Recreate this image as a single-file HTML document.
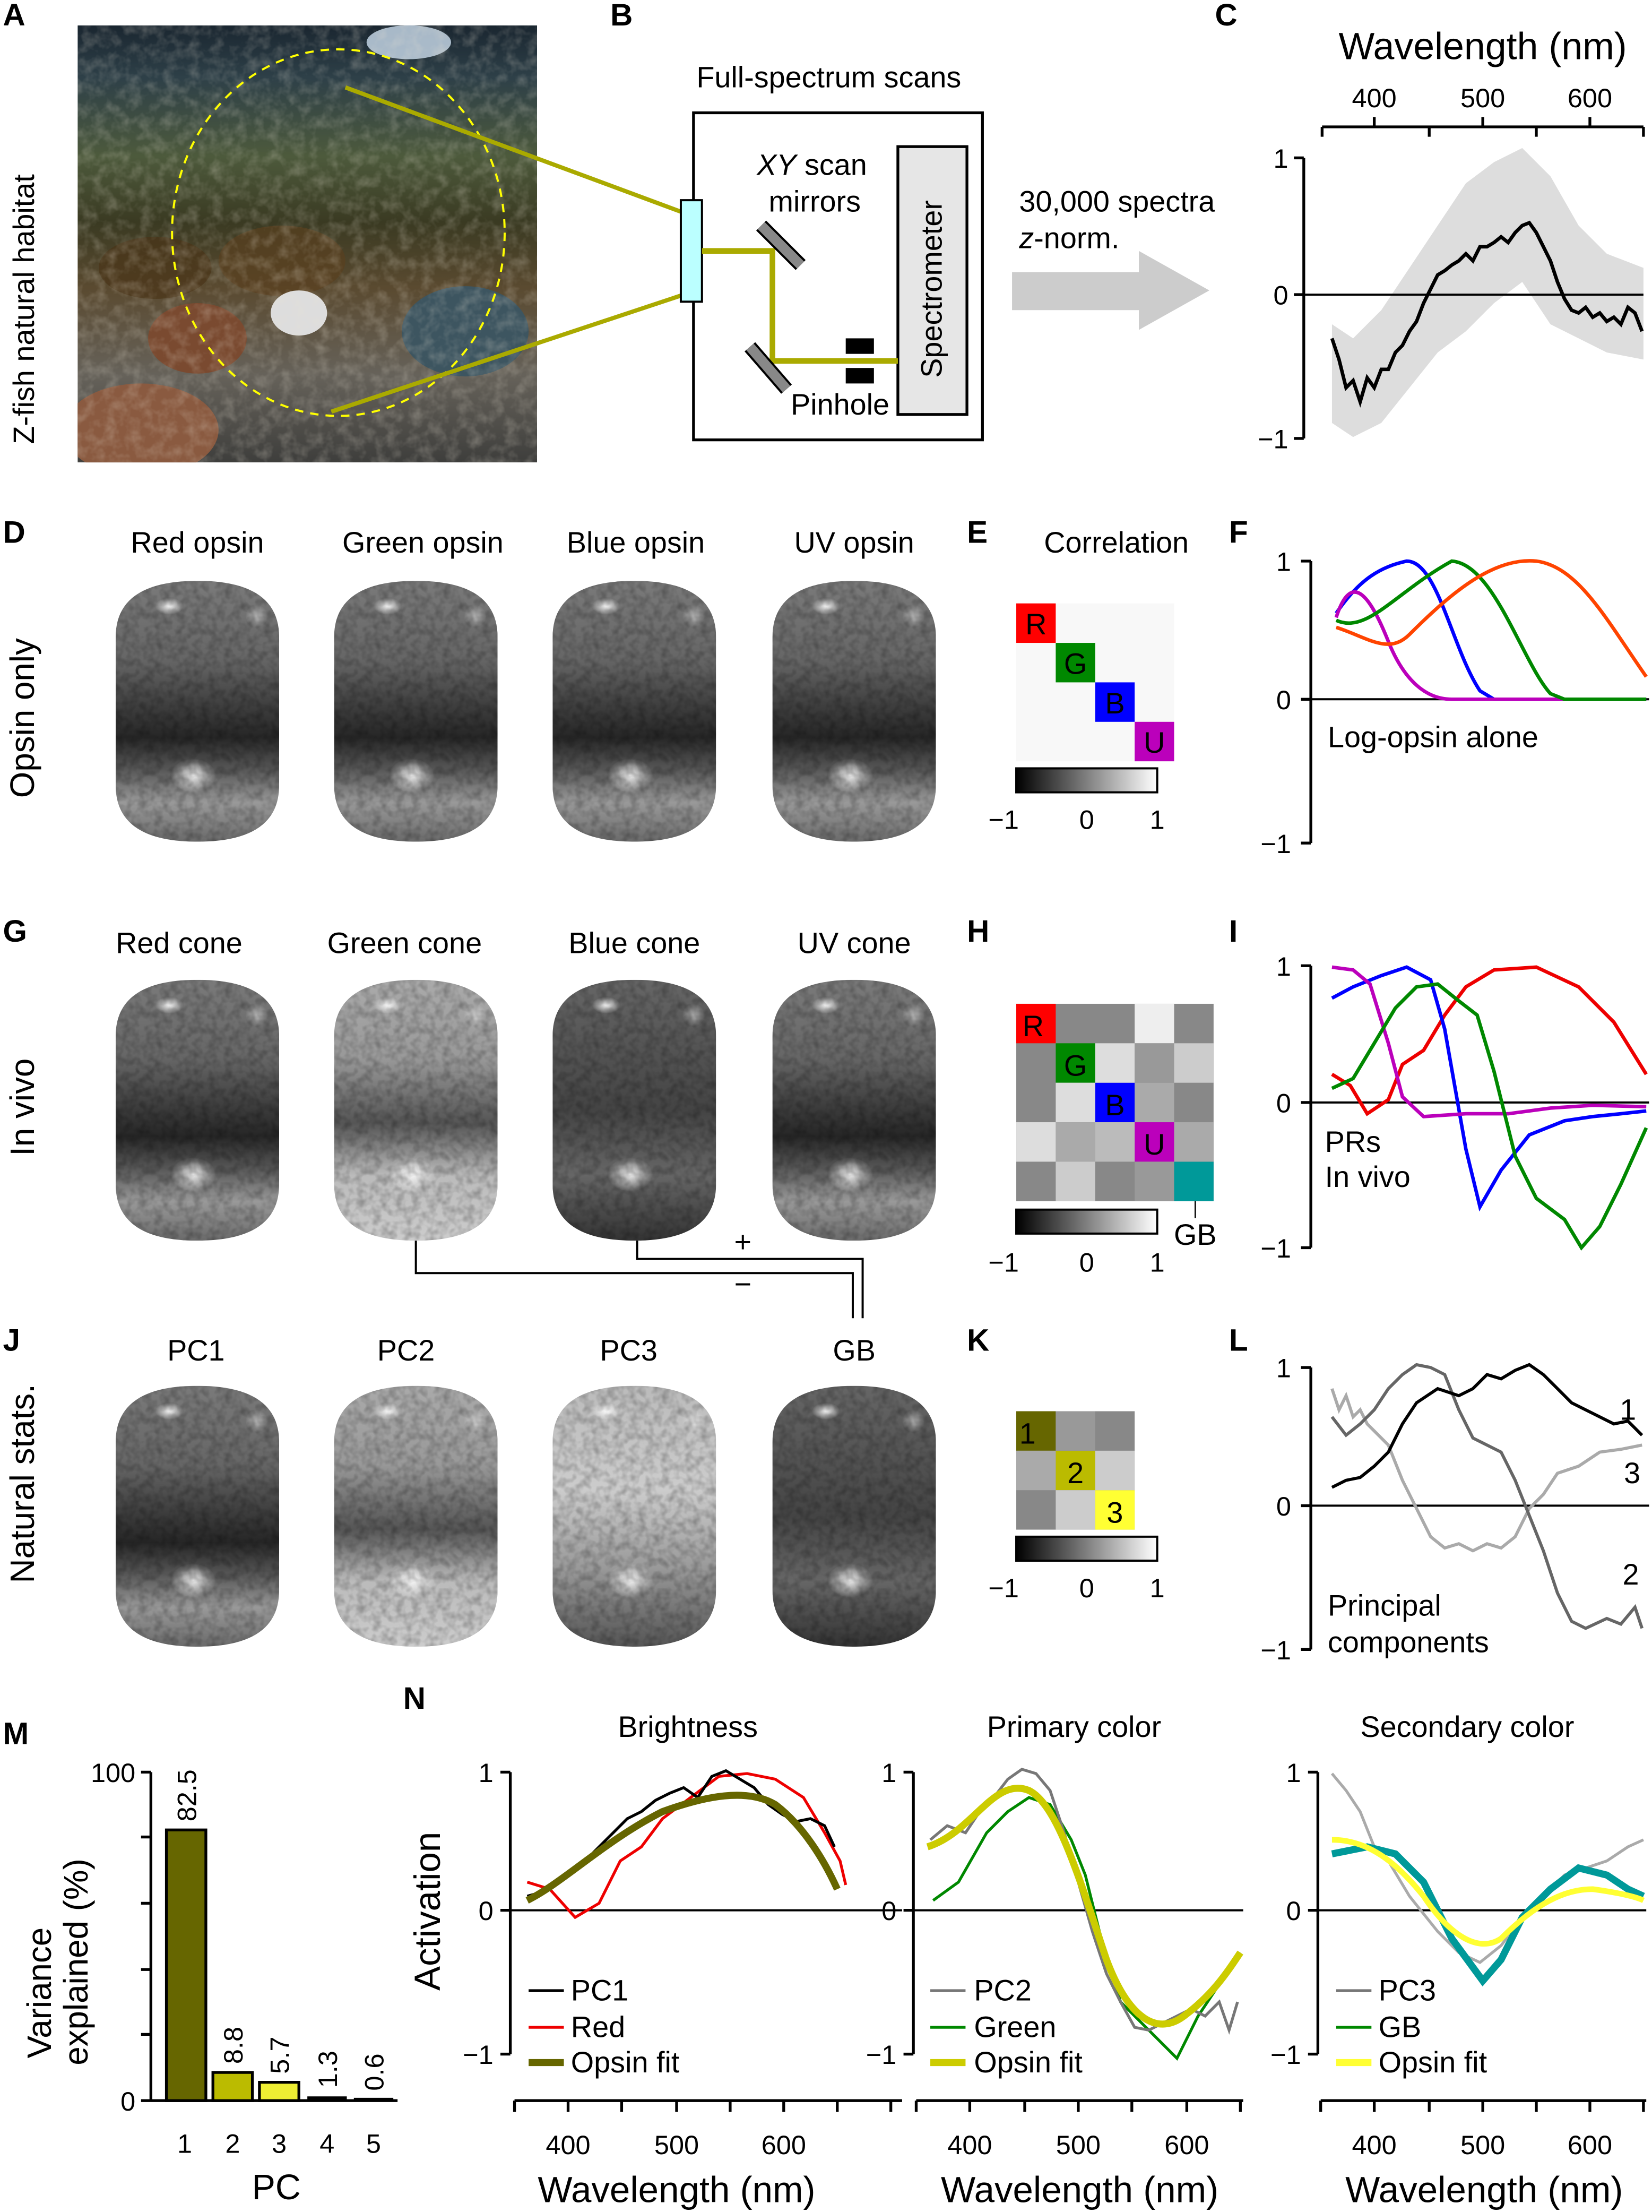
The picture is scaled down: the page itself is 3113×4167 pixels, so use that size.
<!DOCTYPE html>
<html><head><meta charset="utf-8"><style>
html,body{margin:0;padding:0;background:#fff}
svg{display:block}
text{font-family:"Liberation Sans",sans-serif;fill:#000}
.pl{font-weight:bold;font-size:22px}
.lb{font-size:21px}
.tk{font-size:19px}
</style></head><body>
<svg width="3113" height="4167" viewBox="0 0 1172 1569" xmlns="http://www.w3.org/2000/svg">
<defs>
<linearGradient id="photo" x1="0" y1="0" x2="0" y2="1">
<stop offset="0" stop-color="#1a2630"/><stop offset="0.12" stop-color="#2e4048"/><stop offset="0.3" stop-color="#4d5a3c"/><stop offset="0.45" stop-color="#3a3a22"/><stop offset="0.6" stop-color="#5a4a30"/><stop offset="0.8" stop-color="#66625a"/><stop offset="1" stop-color="#3e3e3c"/></linearGradient>
<linearGradient id="img1" x1="0" y1="0" x2="0" y2="1">
<stop offset="0" stop-color="#7a7a7a"/><stop offset="0.3" stop-color="#666"/><stop offset="0.5" stop-color="#3a3a3a"/><stop offset="0.6" stop-color="#262626"/><stop offset="0.72" stop-color="#555"/><stop offset="0.85" stop-color="#999"/><stop offset="1" stop-color="#6a6a6a"/></linearGradient>
<linearGradient id="img2" x1="0" y1="0" x2="0" y2="1">
<stop offset="0" stop-color="#aaa"/><stop offset="0.3" stop-color="#999"/><stop offset="0.55" stop-color="#555"/><stop offset="0.75" stop-color="#bbb"/><stop offset="1" stop-color="#ccc"/></linearGradient>
<linearGradient id="img3" x1="0" y1="0" x2="0" y2="1">
<stop offset="0" stop-color="#666"/><stop offset="0.5" stop-color="#444"/><stop offset="0.75" stop-color="#666"/><stop offset="1" stop-color="#333"/></linearGradient>
<linearGradient id="img4" x1="0" y1="0" x2="0" y2="1">
<stop offset="0" stop-color="#bbb"/><stop offset="0.4" stop-color="#ccc"/><stop offset="0.7" stop-color="#999"/><stop offset="1" stop-color="#555"/></linearGradient>
<linearGradient id="cb" x1="0" y1="0" x2="1" y2="0"><stop offset="0" stop-color="#000"/><stop offset="1" stop-color="#fff"/></linearGradient>
<radialGradient id="spot"><stop offset="0" stop-color="#fff" stop-opacity="0.9"/><stop offset="1" stop-color="#fff" stop-opacity="0"/></radialGradient>
<filter id="nz" x="0" y="0" width="1" height="1"><feTurbulence type="fractalNoise" baseFrequency="0.18" numOctaves="2" seed="3"/><feColorMatrix type="matrix" values="0 0 0 0 0  0 0 0 0 0  0 0 0 0 0  0 0 0 0.5 -0.18"/></filter>
<filter id="nz2" x="0" y="0" width="1" height="1"><feTurbulence type="fractalNoise" baseFrequency="0.12" numOctaves="3" seed="7"/><feColorMatrix type="matrix" values="0 0 0 0 0.8  0 0 0 0 0.75  0 0 0 0 0.65  0 0 0 0.5 -0.2"/></filter>
<clipPath id="bc"><path d="M0,40 Q0,0 58,0 Q116,0 116,40 L116,145 Q116,185 58,185 Q0,185 0,145 Z"/></clipPath>
<clipPath id="pc"><rect x="55" y="18" width="326" height="310"/></clipPath>
<g id="deco"><ellipse cx="38" cy="18" rx="10" ry="6" fill="url(#spot)"/><ellipse cx="100" cy="25" rx="8" ry="8" fill="url(#spot)" opacity="0.6"/><ellipse cx="55" cy="138" rx="16" ry="12" fill="url(#spot)"/><rect x="0" y="0" width="116" height="185" filter="url(#nz)"/></g>
</defs>

<!-- Panel letters -->
<text class="pl" x="2" y="18">A</text><text class="pl" x="433" y="18">B</text><text class="pl" x="862" y="18">C</text>
<text class="pl" x="2" y="385">D</text><text class="pl" x="686" y="385">E</text><text class="pl" x="872" y="385">F</text>
<text class="pl" x="2" y="668">G</text><text class="pl" x="686" y="668">H</text><text class="pl" x="872" y="668">I</text>
<text class="pl" x="2" y="958">J</text><text class="pl" x="686" y="958">K</text><text class="pl" x="872" y="958">L</text>
<text class="pl" x="2" y="1237">M</text><text class="pl" x="286" y="1212">N</text>

<!-- A -->
<text class="lb" font-size="24" transform="translate(24,315) rotate(-90)">Z-fish natural habitat</text>
<g clip-path="url(#pc)">
<rect x="55" y="18" width="326" height="310" fill="url(#photo)"/>
<ellipse cx="290" cy="30" rx="30" ry="12" fill="#cde" opacity="0.8"/>
<ellipse cx="200" cy="185" rx="45" ry="25" fill="#5a4020" opacity="0.7"/>
<ellipse cx="110" cy="190" rx="40" ry="22" fill="#4a3518" opacity="0.7"/>
<ellipse cx="212" cy="222" rx="20" ry="16" fill="#ddd"/>
<ellipse cx="140" cy="240" rx="35" ry="25" fill="#7a4a30"/>
<ellipse cx="100" cy="305" rx="55" ry="33" fill="#8a5a40"/>
<ellipse cx="330" cy="235" rx="45" ry="32" fill="#3d5560"/>
<rect x="55" y="18" width="326" height="310" filter="url(#nz2)"/>
</g>
<ellipse cx="240" cy="165" rx="118" ry="130" fill="none" stroke="#ff0" stroke-width="1.5" stroke-dasharray="6,5"/>
<line x1="245" y1="62" x2="488" y2="152" stroke="#aa0" stroke-width="3"/>
<line x1="235" y1="292" x2="488" y2="208" stroke="#aa0" stroke-width="3"/>

<!-- B -->
<text class="lb" x="588" y="62" text-anchor="middle">Full-spectrum scans</text>
<rect x="492" y="80" width="205" height="232" fill="none" stroke="#000" stroke-width="2"/>
<rect x="483" y="142" width="15" height="72" fill="#bff" stroke="#000" stroke-width="1.5"/>
<rect x="637" y="104" width="49" height="190" fill="#e6e6e6" stroke="#000" stroke-width="2"/>
<text class="lb" transform="translate(668,268) rotate(-90)">Spectrometer</text>
<text class="lb" x="576" y="124" text-anchor="middle"><tspan font-style="italic">XY</tspan> scan</text>
<text class="lb" x="578" y="150" text-anchor="middle">mirrors</text>
<polyline points="498,178 548,178 548,256 637,256" fill="none" stroke="#aa0" stroke-width="4"/>
<line x1="540" y1="160" x2="568" y2="188" stroke="#000" stroke-width="10"/><line x1="540" y1="160" x2="568" y2="188" stroke="#888" stroke-width="7"/>
<line x1="532" y1="246" x2="558" y2="276" stroke="#000" stroke-width="10"/><line x1="532" y1="246" x2="558" y2="276" stroke="#888" stroke-width="7"/>
<rect x="600" y="240" width="20" height="11" fill="#000"/><rect x="600" y="261" width="20" height="11" fill="#000"/>
<text class="lb" x="596" y="294" text-anchor="middle">Pinhole</text>
<text class="lb" x="723" y="150">30,000 spectra</text>
<text class="lb" x="723" y="176"><tspan font-style="italic">z</tspan>-norm.</text>
<polygon points="718,193 808,193 808,178 858,206 808,234 808,220 718,220" fill="#ccc"/>

<!-- C -->
<text x="1052" y="42" text-anchor="middle" font-size="27">Wavelength (nm)</text>
<line x1="938" y1="90" x2="1166" y2="90" stroke="#000" stroke-width="2"/>
<g stroke="#000" stroke-width="2"><line x1="938" y1="90" x2="938" y2="97"/><line x1="975" y1="83" x2="975" y2="90"/><line x1="1014" y1="90" x2="1014" y2="97"/><line x1="1052" y1="83" x2="1052" y2="90"/><line x1="1090" y1="90" x2="1090" y2="97"/><line x1="1128" y1="83" x2="1128" y2="90"/><line x1="1166" y1="90" x2="1166" y2="97"/></g>
<text class="tk" x="975" y="76" text-anchor="middle">400</text><text class="tk" x="1052" y="76" text-anchor="middle">500</text><text class="tk" x="1128" y="76" text-anchor="middle">600</text>
<line x1="925" y1="112" x2="925" y2="311" stroke="#000" stroke-width="2"/>
<g stroke="#000" stroke-width="2"><line x1="918" y1="112" x2="925" y2="112"/><line x1="918" y1="209" x2="925" y2="209"/><line x1="918" y1="311" x2="925" y2="311"/></g>
<text class="tk" x="914" y="119" text-anchor="end">1</text><text class="tk" x="914" y="216" text-anchor="end">0</text><text class="tk" x="914" y="318" text-anchor="end">−1</text>
<polygon points="945,230 960,240 980,220 1000,190 1020,160 1040,130 1060,115 1080,105 1100,125 1120,160 1140,180 1166,190 1166,255 1140,250 1120,240 1100,230 1080,200 1060,215 1040,235 1020,250 1000,275 980,300 960,310 945,300" fill="#ddd"/>
<line x1="925" y1="209" x2="1166" y2="209" stroke="#000" stroke-width="1.5"/>
<polyline points="945,240 950,255 955,275 960,270 965,285 970,268 975,275 980,262 985,262 990,250 995,245 1000,235 1005,228 1010,215 1015,205 1020,195 1025,192 1030,188 1035,185 1040,180 1045,185 1050,175 1055,175 1060,172 1065,168 1070,172 1075,165 1080,160 1085,158 1090,165 1095,175 1100,185 1105,200 1110,212 1115,220 1120,222 1125,218 1130,225 1135,222 1140,228 1145,225 1150,230 1155,218 1160,222 1165,235" fill="none" stroke="#000" stroke-width="2.5"/>

<!-- Row labels -->
<text font-size="24" transform="translate(24,566) rotate(-90)">Opsin only</text>
<text font-size="24" transform="translate(24,820) rotate(-90)">In vivo</text>
<text font-size="24" transform="translate(24,1123) rotate(-90)">Natural stats.</text>

<!-- D images -->
<text class="lb" x="140" y="392" text-anchor="middle">Red opsin</text><text class="lb" x="300" y="392" text-anchor="middle">Green opsin</text><text class="lb" x="451" y="392" text-anchor="middle">Blue opsin</text><text class="lb" x="606" y="392" text-anchor="middle">UV opsin</text>
<g transform="translate(82,412)" clip-path="url(#bc)"><rect width="116" height="185" fill="url(#img1)"/><use href="#deco"/></g>
<g transform="translate(237,412)" clip-path="url(#bc)"><rect width="116" height="185" fill="url(#img1)"/><use href="#deco"/></g>
<g transform="translate(392,412)" clip-path="url(#bc)"><rect width="116" height="185" fill="url(#img1)"/><use href="#deco"/></g>
<g transform="translate(548,412)" clip-path="url(#bc)"><rect width="116" height="185" fill="url(#img1)"/><use href="#deco"/></g>
<!-- G images -->
<text class="lb" x="127" y="676" text-anchor="middle">Red cone</text><text class="lb" x="287" y="676" text-anchor="middle">Green cone</text><text class="lb" x="450" y="676" text-anchor="middle">Blue cone</text><text class="lb" x="606" y="676" text-anchor="middle">UV cone</text>
<g transform="translate(82,695)" clip-path="url(#bc)"><rect width="116" height="185" fill="url(#img1)"/><use href="#deco"/></g>
<g transform="translate(237,695)" clip-path="url(#bc)"><rect width="116" height="185" fill="url(#img2)"/><use href="#deco"/></g>
<g transform="translate(392,695)" clip-path="url(#bc)"><rect width="116" height="185" fill="url(#img3)"/><use href="#deco"/></g>
<g transform="translate(548,695)" clip-path="url(#bc)"><rect width="116" height="185" fill="url(#img1)"/><use href="#deco"/></g>
<polyline points="295,880 295,903 605,903 605,935" fill="none" stroke="#000" stroke-width="1.5"/>
<polyline points="452,880 452,893 612,893 612,935" fill="none" stroke="#000" stroke-width="1.5"/>
<text class="lb" x="527" y="888" text-anchor="middle">+</text><text class="lb" x="527" y="918" text-anchor="middle">−</text>
<!-- J images -->
<text class="lb" x="139" y="965" text-anchor="middle">PC1</text><text class="lb" x="288" y="965" text-anchor="middle">PC2</text><text class="lb" x="446" y="965" text-anchor="middle">PC3</text><text class="lb" x="606" y="965" text-anchor="middle">GB</text>
<g transform="translate(82,983)" clip-path="url(#bc)"><rect width="116" height="185" fill="url(#img1)"/><use href="#deco"/></g>
<g transform="translate(237,983)" clip-path="url(#bc)"><rect width="116" height="185" fill="url(#img2)"/><use href="#deco"/></g>
<g transform="translate(392,983)" clip-path="url(#bc)"><rect width="116" height="185" fill="url(#img4)"/><use href="#deco"/></g>
<g transform="translate(548,983)" clip-path="url(#bc)"><rect width="116" height="185" fill="url(#img3)"/><use href="#deco"/></g>

<!-- E -->
<text class="lb" x="792" y="392" text-anchor="middle">Correlation</text>
<rect x="721" y="428" width="112" height="112" fill="#f8f8f8"/>
<rect x="721" y="428" width="28" height="28" fill="#f00"/><rect x="749" y="456" width="28" height="28" fill="#080"/><rect x="777" y="484" width="28" height="28" fill="#00f"/><rect x="805" y="512" width="28" height="28" fill="#b0b"/>
<text class="lb" x="735" y="450" text-anchor="middle">R</text><text class="lb" x="763" y="478" text-anchor="middle">G</text><text class="lb" x="791" y="506" text-anchor="middle">B</text><text class="lb" x="819" y="534" text-anchor="middle">U</text>
<rect x="721" y="545" width="100" height="17" fill="url(#cb)" stroke="#000" stroke-width="1.5"/>
<text class="tk" x="712" y="588" text-anchor="middle">−1</text><text class="tk" x="771" y="588" text-anchor="middle">0</text><text class="tk" x="821" y="588" text-anchor="middle">1</text>

<!-- H -->
<g>
<rect x="721" y="712" width="140" height="140" fill="#888"/>
<rect x="721" y="712" width="28" height="28" fill="#f00"/><rect x="749" y="740" width="28" height="28" fill="#080"/><rect x="777" y="768" width="28" height="28" fill="#00f"/><rect x="805" y="796" width="28" height="28" fill="#b0b"/><rect x="833" y="824" width="28" height="28" fill="#099"/>
<rect x="805" y="712" width="28" height="28" fill="#eee"/><rect x="777" y="740" width="28" height="28" fill="#ddd"/><rect x="833" y="740" width="28" height="28" fill="#ccc"/><rect x="749" y="768" width="28" height="28" fill="#ddd"/><rect x="805" y="768" width="28" height="28" fill="#aaa"/>
<rect x="721" y="796" width="28" height="28" fill="#ddd"/><rect x="749" y="796" width="28" height="28" fill="#aaa"/><rect x="777" y="796" width="28" height="28" fill="#bbb"/><rect x="833" y="796" width="28" height="28" fill="#aaa"/>
<rect x="749" y="824" width="28" height="28" fill="#ccc"/><rect x="805" y="824" width="28" height="28" fill="#999"/><rect x="805" y="740" width="28" height="28" fill="#999"/>
<text class="lb" x="733" y="735" text-anchor="middle">R</text><text class="lb" x="763" y="763" text-anchor="middle">G</text><text class="lb" x="791" y="791" text-anchor="middle">B</text><text class="lb" x="819" y="819" text-anchor="middle">U</text>
<line x1="848" y1="852" x2="848" y2="864" stroke="#000"/>
<rect x="721" y="858" width="100" height="17" fill="url(#cb)" stroke="#000" stroke-width="1.5"/>
<text class="lb" x="848" y="883" text-anchor="middle">GB</text>
<text class="tk" x="712" y="902" text-anchor="middle">−1</text><text class="tk" x="771" y="902" text-anchor="middle">0</text><text class="tk" x="821" y="902" text-anchor="middle">1</text>
</g>

<!-- K -->
<rect x="721" y="1001" width="84" height="84" fill="#888"/>
<rect x="721" y="1001" width="28" height="28" fill="#660"/><rect x="749" y="1029" width="28" height="28" fill="#bb0"/><rect x="777" y="1057" width="28" height="28" fill="#ff3"/>
<rect x="749" y="1001" width="28" height="28" fill="#999"/><rect x="721" y="1029" width="28" height="28" fill="#aaa"/><rect x="749" y="1057" width="28" height="28" fill="#ccc"/><rect x="777" y="1029" width="28" height="28" fill="#ccc"/>
<text class="lb" x="729" y="1024" text-anchor="middle">1</text><text class="lb" x="763" y="1052" text-anchor="middle">2</text><text class="lb" x="791" y="1080" text-anchor="middle">3</text>
<rect x="721" y="1090" width="100" height="17" fill="url(#cb)" stroke="#000" stroke-width="1.5"/>
<text class="tk" x="712" y="1133" text-anchor="middle">−1</text><text class="tk" x="771" y="1133" text-anchor="middle">0</text><text class="tk" x="821" y="1133" text-anchor="middle">1</text>

<!-- F / I / L axes -->
<g stroke="#000" stroke-width="2">
<line x1="930" y1="398" x2="930" y2="598"/><line x1="923" y1="398" x2="930" y2="398"/><line x1="923" y1="496" x2="930" y2="496"/><line x1="923" y1="598" x2="930" y2="598"/>
<line x1="930" y1="685" x2="930" y2="885"/><line x1="923" y1="685" x2="930" y2="685"/><line x1="923" y1="782" x2="930" y2="782"/><line x1="923" y1="885" x2="930" y2="885"/>
<line x1="930" y1="970" x2="930" y2="1170"/><line x1="923" y1="970" x2="930" y2="970"/><line x1="923" y1="1068" x2="930" y2="1068"/><line x1="923" y1="1170" x2="930" y2="1170"/>
</g>
<g stroke="#000" stroke-width="1.5"><line x1="930" y1="496" x2="1170" y2="496"/><line x1="930" y1="782" x2="1170" y2="782"/><line x1="930" y1="1068" x2="1170" y2="1068"/></g>
<text class="tk" x="916" y="405" text-anchor="end">1</text><text class="tk" x="916" y="503" text-anchor="end">0</text><text class="tk" x="916" y="605" text-anchor="end">−1</text>
<text class="tk" x="916" y="692" text-anchor="end">1</text><text class="tk" x="916" y="789" text-anchor="end">0</text><text class="tk" x="916" y="892" text-anchor="end">−1</text>
<text class="tk" x="916" y="977" text-anchor="end">1</text><text class="tk" x="916" y="1075" text-anchor="end">0</text><text class="tk" x="916" y="1177" text-anchor="end">−1</text>
<!-- F curves -->
<g fill="none" stroke-width="2.5">
<path d="M948,435 C965,410 980,402 998,398 C1020,398 1030,460 1050,490 L1060,496 L1168,496" stroke="#00f"/>
<path d="M948,438 C960,400 975,430 985,455 C995,480 1010,496 1030,496 L1168,496" stroke="#b0b"/>
<path d="M948,440 C970,450 990,420 1030,398 C1060,400 1080,470 1100,492 L1110,496 L1168,496" stroke="#080"/>
<path d="M948,445 C970,452 985,465 1000,450 C1030,420 1060,395 1090,398 C1120,402 1140,440 1168,480" stroke="#f40"/>
</g>
<text class="lb" x="942" y="530">Log-opsin alone</text>
<!-- I curves -->
<g fill="none" stroke-width="2.5">
<polyline points="945,762 958,770 970,790 985,780 995,755 1010,745 1025,720 1040,700 1060,688 1090,686 1120,700 1145,725 1168,762" stroke="#e00"/>
<polyline points="945,708 960,700 980,692 998,686 1015,695 1025,730 1040,815 1050,856 1065,830 1085,805 1110,795 1130,792 1150,790 1168,788" stroke="#00f"/>
<polyline points="945,686 960,688 972,698 985,740 995,778 1010,792 1040,790 1070,790 1100,786 1130,784 1168,785" stroke="#b0b"/>
<polyline points="945,772 960,765 975,740 990,715 1005,700 1020,698 1035,710 1048,720 1060,760 1075,820 1090,850 1110,865 1122,885 1135,870 1150,840 1168,800" stroke="#080"/>
</g>
<text class="lb" x="940" y="817">PRs</text><text class="lb" x="940" y="842">In vivo</text>
<!-- L curves -->
<g fill="none" stroke-width="2.2">
<polyline points="945,985 950,1000 955,990 960,1005 965,1000 970,1010 975,1015 985,1025 995,1050 1005,1070 1015,1090 1025,1098 1035,1095 1045,1100 1055,1095 1065,1098 1075,1090 1085,1070 1095,1060 1105,1045 1120,1040 1135,1030 1150,1028 1165,1025" stroke="#aaa"/>
<polyline points="945,1005 955,1018 965,1010 975,1000 985,985 995,975 1005,968 1015,970 1025,975 1035,1000 1045,1020 1055,1025 1065,1030 1075,1050 1085,1075 1095,1100 1105,1130 1115,1150 1125,1155 1140,1148 1150,1152 1160,1140 1165,1155" stroke="#666"/>
<polyline points="945,1055 955,1050 965,1048 975,1040 985,1030 995,1010 1005,995 1020,985 1035,990 1045,985 1055,975 1065,978 1075,972 1085,968 1095,975 1105,985 1115,995 1125,1000 1135,1005 1145,1010 1155,1008 1165,1018" stroke="#000"/>
</g>
<text class="lb" x="1155" y="1007" text-anchor="middle">1</text><text class="lb" x="1157" y="1124" text-anchor="middle">2</text><text class="lb" x="1158" y="1052" text-anchor="middle">3</text>
<text class="lb" x="942" y="1146">Principal</text><text class="lb" x="942" y="1172">components</text>

<!-- M -->
<text font-size="24" transform="translate(36,1460) rotate(-90)">Variance</text>
<text font-size="24" transform="translate(62,1465) rotate(-90)">explained (%)</text>
<line x1="107" y1="1257" x2="107" y2="1490" stroke="#000" stroke-width="2"/>
<line x1="107" y1="1490" x2="282" y2="1490" stroke="#000" stroke-width="2"/>
<g stroke="#000" stroke-width="2"><line x1="100" y1="1257" x2="107" y2="1257"/><line x1="100" y1="1303" x2="107" y2="1303"/><line x1="100" y1="1350" x2="107" y2="1350"/><line x1="100" y1="1397" x2="107" y2="1397"/><line x1="100" y1="1443" x2="107" y2="1443"/><line x1="100" y1="1490" x2="107" y2="1490"/></g>
<text class="tk" x="96" y="1264" text-anchor="end">100</text><text class="tk" x="96" y="1497" text-anchor="end">0</text>
<rect x="118" y="1298" width="28" height="192" fill="#660" stroke="#000" stroke-width="2"/>
<rect x="151" y="1470" width="28" height="20" fill="#bb0" stroke="#000" stroke-width="2"/>
<rect x="184" y="1477" width="28" height="13" fill="#ee3" stroke="#000" stroke-width="2"/>
<rect x="218" y="1487" width="28" height="3" fill="#000"/>
<rect x="251" y="1488" width="28" height="2" fill="#000"/>
<text class="tk" transform="translate(139,1292) rotate(-90)">82.5</text>
<text class="tk" transform="translate(172,1464) rotate(-90)">8.8</text>
<text class="tk" transform="translate(205,1471) rotate(-90)">5.7</text>
<text class="tk" transform="translate(239,1481) rotate(-90)">1.3</text>
<text class="tk" transform="translate(272,1483) rotate(-90)">0.6</text>
<text class="tk" x="131" y="1527" text-anchor="middle">1</text><text class="tk" x="165" y="1527" text-anchor="middle">2</text><text class="tk" x="198" y="1527" text-anchor="middle">3</text><text class="tk" x="232" y="1527" text-anchor="middle">4</text><text class="tk" x="265" y="1527" text-anchor="middle">5</text>
<text x="196" y="1560" text-anchor="middle" font-size="25">PC</text>

<!-- N -->
<text font-size="26" transform="translate(312,1412) rotate(-90)">Activation</text>
<text class="lb" x="488" y="1232" text-anchor="middle">Brightness</text>
<text class="lb" x="762" y="1232" text-anchor="middle">Primary color</text>
<text class="lb" x="1041" y="1232" text-anchor="middle">Secondary color</text>
<g stroke="#000" stroke-width="2" fill="none">
<line x1="362" y1="1257" x2="362" y2="1457"/><line x1="355" y1="1257" x2="362" y2="1257"/><line x1="355" y1="1355" x2="362" y2="1355"/><line x1="355" y1="1457" x2="362" y2="1457"/>
<line x1="365" y1="1490" x2="640" y2="1490"/>
<line x1="648" y1="1257" x2="648" y2="1457"/><line x1="641" y1="1257" x2="648" y2="1257"/><line x1="641" y1="1355" x2="648" y2="1355"/><line x1="641" y1="1457" x2="648" y2="1457"/>
<line x1="650" y1="1490" x2="882" y2="1490"/>
<line x1="935" y1="1257" x2="935" y2="1457"/><line x1="928" y1="1257" x2="935" y2="1257"/><line x1="928" y1="1355" x2="935" y2="1355"/><line x1="928" y1="1457" x2="935" y2="1457"/>
<line x1="937" y1="1490" x2="1168" y2="1490"/>
<line x1="365" y1="1490" x2="365" y2="1498"/><line x1="403" y1="1490" x2="403" y2="1498"/><line x1="441" y1="1490" x2="441" y2="1498"/><line x1="480" y1="1490" x2="480" y2="1498"/><line x1="518" y1="1490" x2="518" y2="1498"/><line x1="556" y1="1490" x2="556" y2="1498"/><line x1="594" y1="1490" x2="594" y2="1498"/><line x1="632" y1="1490" x2="632" y2="1498"/>
<line x1="650" y1="1490" x2="650" y2="1498"/><line x1="688" y1="1490" x2="688" y2="1498"/><line x1="727" y1="1490" x2="727" y2="1498"/><line x1="765" y1="1490" x2="765" y2="1498"/><line x1="803" y1="1490" x2="803" y2="1498"/><line x1="842" y1="1490" x2="842" y2="1498"/><line x1="880" y1="1490" x2="880" y2="1498"/>
<line x1="937" y1="1490" x2="937" y2="1498"/><line x1="975" y1="1490" x2="975" y2="1498"/><line x1="1014" y1="1490" x2="1014" y2="1498"/><line x1="1052" y1="1490" x2="1052" y2="1498"/><line x1="1090" y1="1490" x2="1090" y2="1498"/><line x1="1128" y1="1490" x2="1128" y2="1498"/><line x1="1166" y1="1490" x2="1166" y2="1498"/>
</g>
<g stroke="#000" stroke-width="1.5"><line x1="362" y1="1355" x2="640" y2="1355"/><line x1="648" y1="1355" x2="882" y2="1355"/><line x1="935" y1="1355" x2="1168" y2="1355"/></g>
<text class="tk" x="350" y="1264" text-anchor="end">1</text><text class="tk" x="350" y="1362" text-anchor="end">0</text><text class="tk" x="350" y="1464" text-anchor="end">−1</text>
<text class="tk" x="636" y="1264" text-anchor="end">1</text><text class="tk" x="636" y="1362" text-anchor="end">0</text><text class="tk" x="636" y="1464" text-anchor="end">−1</text>
<text class="tk" x="923" y="1264" text-anchor="end">1</text><text class="tk" x="923" y="1362" text-anchor="end">0</text><text class="tk" x="923" y="1464" text-anchor="end">−1</text>
<g class="tk" font-size="21" text-anchor="middle">
<text x="403" y="1528">400</text><text x="480" y="1528">500</text><text x="556" y="1528">600</text>
<text x="688" y="1528">400</text><text x="765" y="1528">500</text><text x="842" y="1528">600</text>
<text x="975" y="1528">400</text><text x="1052" y="1528">500</text><text x="1128" y="1528">600</text>
</g>
<text x="480" y="1562" text-anchor="middle" font-size="26">Wavelength (nm)</text>
<text x="766" y="1562" text-anchor="middle" font-size="26">Wavelength (nm)</text>
<text x="1053" y="1562" text-anchor="middle" font-size="26">Wavelength (nm)</text>
<!-- N1 curves -->
<g fill="none">
<polyline points="374,1335 390,1340 408,1360 425,1350 440,1320 455,1310 470,1290 490,1275 510,1260 530,1258 550,1262 570,1275 585,1300 596,1320 600,1337" stroke="#e00" stroke-width="2"/>
<polyline points="374,1345 385,1342 395,1335 405,1328 415,1320 425,1310 435,1300 445,1290 455,1285 465,1277 475,1272 485,1268 495,1275 505,1260 515,1256 525,1262 535,1268 545,1280 555,1287 565,1292 575,1290 585,1295 592,1310" stroke="#000" stroke-width="2"/>
<path d="M374,1348 C400,1335 430,1305 470,1285 C500,1274 530,1268 550,1280 C570,1295 585,1320 594,1340" stroke="#660" stroke-width="5"/>
</g>
<!-- N2 curves -->
<g fill="none">
<polyline points="662,1348 680,1335 700,1300 715,1285 730,1275 745,1280 760,1305 770,1330 780,1370 795,1420 815,1440 835,1460 850,1430 870,1400 880,1385" stroke="#080" stroke-width="2"/>
<polyline points="660,1305 672,1295 685,1300 695,1285 705,1275 715,1262 725,1255 735,1258 745,1270 755,1300 765,1335 775,1370 785,1400 795,1420 805,1438 815,1440 825,1435 835,1430 845,1425 855,1430 865,1420 872,1440 878,1420" stroke="#777" stroke-width="2"/>
<path d="M658,1310 C690,1300 705,1260 730,1270 C750,1280 765,1330 785,1390 C800,1430 820,1445 840,1430 C860,1415 870,1400 880,1385" stroke="#cc0" stroke-width="5"/>
</g>
<!-- N3 curves -->
<g fill="none">
<polyline points="945,1258 955,1270 965,1285 975,1310 985,1320 1000,1345 1020,1370 1035,1385 1050,1392 1065,1380 1080,1360 1095,1345 1110,1330 1125,1325 1140,1320 1155,1310 1166,1305" stroke="#aaa" stroke-width="2"/>
<polyline points="945,1315 970,1310 990,1315 1010,1335 1030,1375 1052,1405 1065,1390 1080,1360 1100,1340 1120,1325 1140,1330 1155,1340 1166,1345" stroke="#099" stroke-width="5"/>
<path d="M945,1305 C970,1305 990,1320 1010,1345 C1030,1375 1050,1385 1065,1375 C1090,1350 1110,1340 1130,1340 C1145,1342 1160,1345 1166,1348" stroke="#ff3" stroke-width="4"/>
</g>
<!-- Legends -->
<g class="lb">
<line x1="375" y1="1412" x2="400" y2="1412" stroke="#000" stroke-width="2"/><text x="405" y="1419">PC1</text>
<line x1="375" y1="1438" x2="400" y2="1438" stroke="#e00" stroke-width="2"/><text x="405" y="1445">Red</text>
<line x1="375" y1="1463" x2="400" y2="1463" stroke="#660" stroke-width="5"/><text x="405" y="1470">Opsin fit</text>
<line x1="660" y1="1412" x2="685" y2="1412" stroke="#777" stroke-width="2"/><text x="691" y="1419">PC2</text>
<line x1="660" y1="1438" x2="685" y2="1438" stroke="#080" stroke-width="2"/><text x="691" y="1445">Green</text>
<line x1="660" y1="1463" x2="685" y2="1463" stroke="#cc0" stroke-width="5"/><text x="691" y="1470">Opsin fit</text>
<line x1="948" y1="1412" x2="973" y2="1412" stroke="#777" stroke-width="2"/><text x="978" y="1419">PC3</text>
<line x1="948" y1="1438" x2="973" y2="1438" stroke="#080" stroke-width="2"/><text x="978" y="1445">GB</text>
<line x1="948" y1="1463" x2="973" y2="1463" stroke="#ff3" stroke-width="5"/><text x="978" y="1470">Opsin fit</text>
</g>
</svg>
</body></html>
